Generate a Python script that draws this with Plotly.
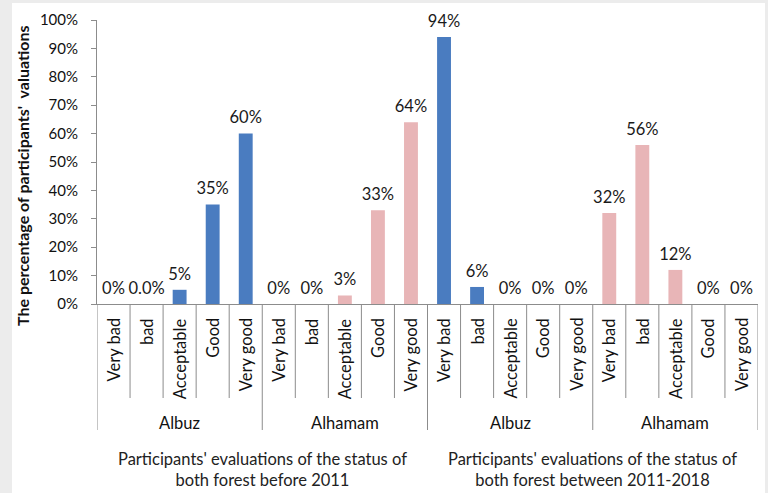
import plotly.graph_objects as go

# ---- data ----
ratings = ["Very bad", "bad", "Acceptable", "Good", "Very good"]
forests = ["Albuz", "Alhamam"]
periods = ["Participants' evaluations of the status of<br>both forest before 2011",
           "Participants' evaluations of the status of<br>both forest between 2011-2018"]

before_albuz = [0.0, 0.0, 0.05, 0.35, 0.60]
before_alhamam = [0.0, 0.0, 0.03, 0.33, 0.64]
between_albuz = [0.94, 0.06, 0.0, 0.0, 0.0]
between_alhamam = [0.32, 0.56, 0.12, 0.0, 0.0]

before_albuz_labels = ["0%", "0.0%", "5%", "35%", "60%"]
before_alhamam_labels = ["0%", "0%", "3%", "33%", "64%"]
between_albuz_labels = ["94%", "6%", "0%", "0%", "0%"]
between_alhamam_labels = ["32%", "56%", "12%", "0%", "0%"]

y_ticks = [0, 0.1, 0.2, 0.3, 0.4, 0.5, 0.6, 0.7, 0.8, 0.9, 1.0]
y_ticktext = ["0%", "10%", "20%", "30%", "40%", "50%", "60%", "70%", "80%", "90%", "100%"]

BLUE = "#4a7cc0"
PINK = "#e8b5b7"
FONT = "Lato"

series = [
    (before_albuz, before_albuz_labels, BLUE),
    (before_alhamam, before_alhamam_labels, PINK),
    (between_albuz, between_albuz_labels, BLUE),
    (between_alhamam, between_alhamam_labels, PINK),
]

n = len(ratings)
fig = go.Figure()
for g, (vals, labs, col) in enumerate(series):
    xs = [g * n + i + 0.5 for i in range(n)]
    fig.add_trace(go.Bar(x=xs, y=vals, width=0.42, marker=dict(color=col, line=dict(width=0)),
                         showlegend=False, hoverinfo="skip"))
    fig.add_trace(go.Scatter(x=xs, y=vals, mode="markers+text", text=labs,
                             textposition="top center", cliponaxis=False,
                             marker=dict(size=8, opacity=0),
                             textfont=dict(family=FONT, size=16.5, color="#1a1a1a"),
                             showlegend=False, hoverinfo="skip"))

# pixel helpers (plot area: x 97..758, y 20..304)
PH = 284.0
PW = 661.0
def py(p):
    return (304 - p) / PH
def px(p):
    return (p - 97) / PW

shapes = []
# white panel over gray paper
shapes.append(dict(type="rect", xref="paper", yref="paper", x0=px(12), x1=px(765), y0=py(520), y1=py(3),
                   fillcolor="white", line=dict(width=0), layer="below"))
total = n * len(series)
for k in range(total + 1):
    long = (k % n == 0)
    shapes.append(dict(type="line", xref="x", yref="paper", x0=k, x1=k,
                       y0=0, y1=py(430 if long else 398),
                       line=dict(color="#8c8c8c", width=1)))

annotations = []
for g in range(len(series)):
    for i, r in enumerate(ratings):
        annotations.append(dict(x=g * n + i + 0.5, xref="x", y=py(316), yref="paper",
                                text=r, textangle=-90, showarrow=False,
                                xanchor="center", yanchor="top",
                                font=dict(family=FONT, size=16.5, color="#111")))
    annotations.append(dict(x=g * n + n / 2, xref="x", y=py(423), yref="paper",
                            text=forests[g % 2], showarrow=False,
                            xanchor="center", yanchor="middle",
                            font=dict(family=FONT, size=16.5, color="#111")))
for p, txt in enumerate(periods):
    annotations.append(dict(x=p * 2 * n + n, xref="x", y=py(470), yref="paper",
                            text=txt, showarrow=False, xanchor="center", yanchor="middle",
                            font=dict(family=FONT, size=16.5, color="#222")))
annotations.append(dict(x=px(23), xref="paper", y=py(176), yref="paper",
                        text="<b>The percentage of participants'  valuations</b>",
                        textangle=-90, showarrow=False, xanchor="center", yanchor="middle",
                        font=dict(family=FONT, size=16, color="#111")))

fig.update_layout(
    width=768, height=493,
    margin=dict(l=97, r=10, t=20, b=189),
    paper_bgcolor="#ececec", plot_bgcolor="rgba(0,0,0,0)",
    shapes=shapes, annotations=annotations,
    xaxis=dict(range=[0, total], showticklabels=False, showgrid=False, zeroline=False,
               showline=True, linecolor="#8c8c8c", linewidth=1, ticks="", fixedrange=True),
    yaxis=dict(range=[0, 1], tickvals=y_ticks, ticktext=y_ticktext, showgrid=False,
               zeroline=False, showline=True, linecolor="#8c8c8c", linewidth=1,
               ticks="outside", ticklen=5, tickcolor="#8c8c8c", ticklabelstandoff=10,
               tickfont=dict(family=FONT, size=15, color="#111")),
)

fig.write_html("out.html")
